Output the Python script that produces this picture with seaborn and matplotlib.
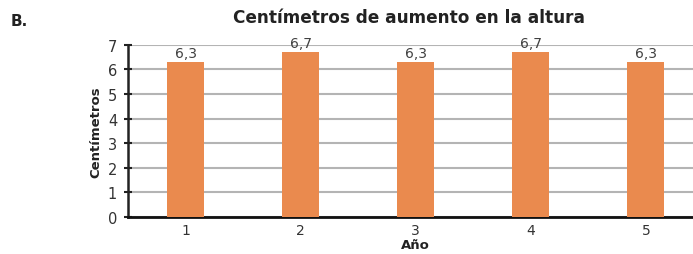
import matplotlib
matplotlib.use("Agg")
import matplotlib.pyplot as plt
import seaborn as sns
import pandas as pd

# data
anios = ["1", "2", "3", "4", "5"]
aumento = [6.3, 6.7, 6.3, 6.7, 6.3]
etiquetas = ["6,3", "6,7", "6,3", "6,7", "6,3"]

sns.set_theme(style="white")
plt.rcParams["font.family"] = ["DejaVu Sans"]

df = pd.DataFrame({"Año": anios, "Centímetros": aumento})

fig = plt.figure(figsize=(6.93, 2.55), dpi=100)
ax = fig.add_axes([0.185, 0.145, 0.83, 0.675])

sns.barplot(data=df, x="Año", y="Centímetros", color="#EA8A4E", width=0.32,
            saturation=1, linewidth=0, ax=ax, zorder=3)

for i, (v, t) in enumerate(zip(aumento, etiquetas)):
    ax.text(i, v + 0.1, t, ha="center", va="bottom", fontsize=10, color="#404040")

ax.set_ylim(0, 7)
ax.set_yticks(range(0, 8))
ax.set_xlim(-0.5, 4.5)
ax.yaxis.grid(True, color="#b4b4b4", linewidth=1.5, zorder=0)
ax.set_axisbelow(True)

for s in ["top", "right"]:
    ax.spines[s].set_visible(False)
ax.spines["left"].set_color("#222222")
ax.spines["left"].set_linewidth(1.8)
ax.spines["bottom"].set_color("#111111")
ax.spines["bottom"].set_linewidth(2)

ax.tick_params(axis="y", direction="inout", length=6, width=1.5, color="#222222",
               labelsize=10.5, labelcolor="#333333", pad=5, left=True)
ax.tick_params(axis="x", length=0, labelsize=10, labelcolor="#333333", pad=4)

ax.set_xlabel("Año", fontsize=9.5, fontweight="bold", color="#222222", labelpad=1)
ax.set_ylabel("Centímetros", fontsize=9.5, fontweight="bold", color="#222222", labelpad=4)

fig.text(0.59, 0.93, "Centímetros de aumento en la altura", ha="center", va="center",
         fontsize=12.2, fontweight="bold", color="#222222")
fig.text(0.015, 0.915, "B.", ha="left", va="center", fontsize=11, fontweight="bold",
         color="#222222")

fig.savefig("out.png", dpi=100)
